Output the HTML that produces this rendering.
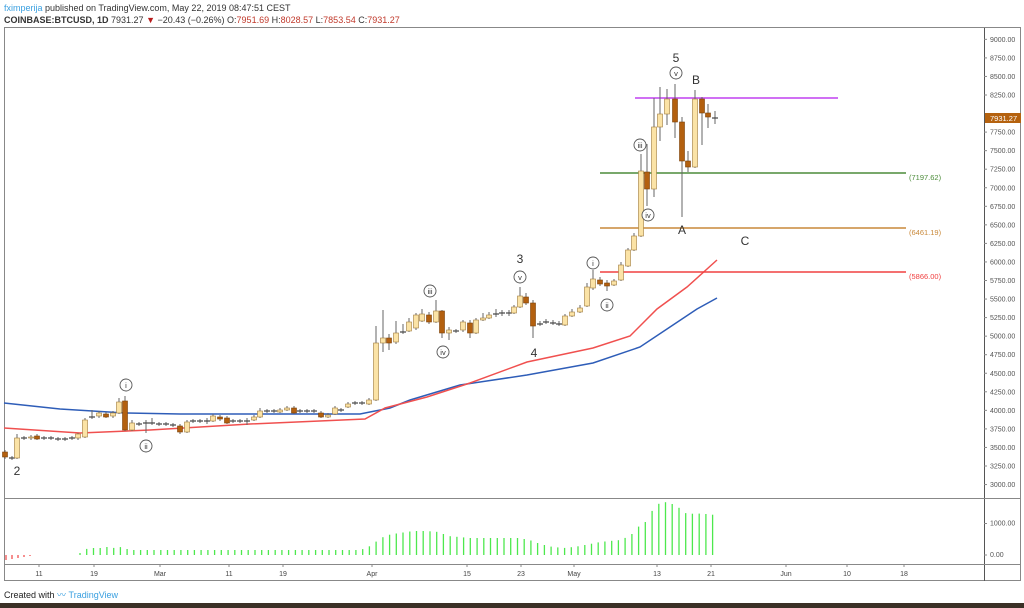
<!DOCTYPE html>
<html><head><meta charset="utf-8"><style>
html,body{margin:0;padding:0;background:#fff;width:1024px;height:608px;overflow:hidden;font-family:"Liberation Sans",sans-serif}
#hdr{position:absolute;left:4px;top:2px;font-size:9px;color:#333;line-height:12px}
.r{color:#c0392b}
</style></head><body>
<div id="hdr"><span style="color:#3aa0e0">fximperija</span> published on TradingView.com, May 22, 2019 08:47:51 CEST<br>
<b>COINBASE:BTCUSD, 1D</b> 7931.27 <span style="color:#b71c1c">▼</span> −20.43 (−0.26%) O:<span class="r">7951.69</span> H:<span class="r">8028.57</span> L:<span class="r">7853.54</span> C:<span class="r">7931.27</span></div>
<svg id="s" width="1024" height="608" style="position:absolute;left:0;top:0" xmlns="http://www.w3.org/2000/svg" font-family="Liberation Sans, sans-serif"></svg>
<div style="position:absolute;left:4px;top:588px;font-size:9px;color:#222">Created with <span style="color:#3aa0e0">〰 TradingView</span></div>
<div style="position:absolute;left:0;top:603px;width:1024px;height:5px;background:#3b3026"></div>
<script>
var s=document.getElementById('s'),h='';
function L(x1,y1,x2,y2,c,w){h+='<line x1="'+x1+'" y1="'+y1+'" x2="'+x2+'" y2="'+y2+'" stroke="'+c+'" stroke-width="'+(w||1)+'"/>';}
function T(x,y,t,c,sz,a){h+='<text x="'+x+'" y="'+y+'" fill="'+c+'" font-size="'+sz+'" text-anchor="'+(a||'start')+'">'+t+'</text>';}
// frame
h+='<rect x="4.5" y="27.5" width="1016" height="553" fill="none" stroke="#888"/>';
L(984.5,28,984.5,581,'#555');L(4,498.5,1021,498.5,'#888');L(4,564.5,1021,564.5,'#888');
// price axis
for(var p=3000;p<=9000;p+=250){var y=95+(8250-p)/250*18.55;if(p==8000)continue;L(984,y,987,y,'#888');T(990,y+2.5,p.toFixed(2),'#555',7);}
T(990,525.5,'1000.00','#555',7);L(984,523.5,987,523.5,'#888');T(990,557,'0.00','#555',7);L(984,555,987,555,'#888');
// time axis
[[39,'11'],[94,'19'],[160,'Mar'],[229,'11'],[283,'19'],[372,'Apr'],[467,'15'],[521,'23'],[574,'May'],[657,'13'],[711,'21'],[786,'Jun'],[847,'10'],[904,'18']].forEach(function(t){L(t[0],564,t[0],567,'#888');T(t[0],576,t[1],'#444',7,'middle');});
// MAs
h+='<polyline fill="none" stroke="#2e5db8" stroke-width="1.5" points="4,403 60,409 125,413 180,414 360,414 375,411 390,408 410,400 460,385 527,375 593,363 640,347 670,327 697,309 717,298"/>';
h+='<polyline fill="none" stroke="#f0504f" stroke-width="1.5" points="4,428 80,433 150,430 250,424 365,419 385,408 427,397 470,383 527,362 593,348 630,336 657,309 687,287 717,260"/>';
// horizontals
L(635,98,838,98,'#c040f0',1.5);L(600,173,906,173,'#4c8c3a',1.5);L(600,228,906,228,'#c9893a',1.5);L(600,272,906,272,'#f04040',1.5);
T(909,180,'(7197.62)','#4c8c3a',7.5);T(909,235,'(6461.19)','#c9893a',7.5);T(909,279,'(5866.00)','#f04040',7.5);
// candles [x,top,bot,wt,wb,bull]
var C=[[5,452,457,450,459,0],[12,458,458,456,460,1],[17,438,458,434,459,1],[24,438,438,436,440,1],[31,437,438,435,440,1],[37,436,439,434,440,0],[44,438,438,436,440,1],[51,438,438,436,440,1],[58,439,439,437,441,1],[65,439,439,437,441,1],[72,438,438,436,440,1],[78,434,438,433,440,1],[85,420,437,418,438,1],[92,417,417,410,419,1],[99,413,416,411,418,1],[106,414,417,412,418,0],[113,413,416,411,418,1],[119,402,413,398,414,1],[125,401,430,396,431,0],[132,423,430,420,431,1],[139,424,424,422,426,1],[146,423,423,420,433,1],[152,423,423,418,425,1],[159,424,424,422,426,1],[166,424,424,422,426,1],[173,425,425,423,427,1],[180,426,432,424,434,0],[187,422,432,420,433,1],[193,421,421,419,423,1],[200,421,421,419,423,1],[207,421,421,418,424,1],[213,416,421,414,422,1],[220,417,419,415,421,0],[227,418,423,416,424,0],[233,421,421,419,423,1],[240,421,421,419,423,1],[247,421,421,418,425,1],[254,417,420,415,421,1],[260,411,417,408,418,1],[267,411,411,409,413,1],[274,411,411,409,413,1],[280,410,412,408,413,1],[287,408,410,406,411,1],[294,408,413,406,414,0],[300,411,411,409,413,1],[307,411,411,409,413,1],[314,411,411,409,413,1],[321,413,417,411,418,0],[328,415,417,413,418,1],[335,408,414,406,415,1],[341,410,410,408,412,1],[348,404,407,402,408,1],[355,403,403,401,405,1],[362,403,403,401,405,1],[369,400,404,398,405,1],[376,343,400,326,401,1],[383,338,343,310,352,1],[389,338,343,334,350,0],[396,333,342,321,344,1],[403,332,332,324,334,1],[409,322,331,318,332,1],[416,315,328,313,330,1],[422,314,321,309,322,1],[429,315,322,312,324,0],[436,311,322,300,323,1],[442,311,333,310,338,0],[449,330,333,327,340,1],[456,331,331,329,333,1],[463,322,330,320,332,1],[470,323,333,320,338,0],[476,320,333,318,334,1],[483,318,320,313,321,1],[489,315,318,312,319,1],[496,314,314,309,317,1],[502,313,313,310,316,1],[509,313,313,310,316,1],[514,307,313,305,314,1],[520,296,307,287,308,1],[526,297,303,293,305,0],[533,303,326,300,338,0],[540,324,324,321,326,1],[546,322,322,319,324,1],[553,323,323,320,325,1],[559,324,324,321,326,1],[565,316,325,314,326,1],[572,312,316,309,317,1],[580,308,312,305,313,1],[587,287,306,283,307,1],[593,279,288,270,290,1],[600,280,284,277,286,0],[607,283,286,280,291,0],[614,281,285,279,286,1],[621,265,280,262,281,1],[628,250,266,248,267,1],[634,236,250,233,251,1],[641,171,236,154,237,1],[647,172,189,144,206,0],[654,127,189,98,197,1],[660,114,127,87,141,1],[667,99,114,89,125,1],[675,99,122,84,138,0],[682,122,161,117,217,0],[688,161,167,151,172,0],[695,99,167,90,168,1],[702,99,113,97,145,0],[708,113,117,104,128,0],[715,118,118,111,124,1]];
C.forEach(function(c){L(c[0],c[3],c[0],c[4],'#666');if(c[1]==c[2]){L(c[0]-3,c[1],c[0]+3,c[1],'#444',1.2);}else{h+='<rect x="'+(c[0]-2.5)+'" y="'+c[1]+'" width="5" height="'+(c[2]-c[1])+'" fill="'+(c[5]?'#fbe3a6':'#b3600f')+'" stroke="'+(c[5]?'#a07a3a':'#7a4008')+'" stroke-width="0.6"/>';}});
// indicator
var P=[[80,553],[86,549],[93,548],[100,548],[107,547],[113,548],[120,547],[127,549],[133,550],[360,550],[366,548],[372,545],[378,540],[385,536],[392,534],[400,533],[413,531],[426,531],[440,532],[447,536],[460,537],[470,538],[520,538],[533,541],[540,544],[553,547],[566,548],[580,546],[590,544],[600,542],[610,541],[620,540],[630,536],[640,525],[647,521],[654,507],[660,503],[667,502],[675,505],[682,510],[688,515],[695,513],[702,514],[708,514],[715,515]];
function iy(x){for(var i=1;i<P.length;i++){if(x<=P[i][0]){var a=P[i-1],b=P[i];return a[1]+(b[1]-a[1])*(x-a[0])/(b[0]-a[0]);}}return 515;}
for(var x=80;x<=716;x+=6.73){L(x.toFixed(1),iy(x).toFixed(1),x.toFixed(1),555,'#4de84d',1.3);}
[6,12,18,24,30].forEach(function(x,i){L(x,555,x,560-i,'#f05050',1.3);});
// price tag
h+='<rect x="985" y="113" width="36" height="10" fill="#b5620f"/>';T(990,121,'7931.27','#fff',7.5);
// wave labels
function O(x,y,t){h+='<circle cx="'+x+'" cy="'+y+'" r="6" fill="#fff" stroke="#555" stroke-width="0.9"/>';T(x,y+2.8,t,'#333',7.5,'middle');}
O(676,73,'v');O(640,145,'iii');O(648,215,'iv');O(520,277,'v');O(430,291,'iii');O(443,352,'iv');O(593,263,'i');O(607,305,'ii');O(126,385,'i');O(146,446,'ii');
T(676,62,'5','#333',12,'middle');T(696,84,'B','#333',12,'middle');T(682,234,'A','#333',12,'middle');T(745,245,'C','#333',12,'middle');
T(520,263,'3','#333',12,'middle');T(534,357,'4','#333',12,'middle');T(17,475,'2','#333',12,'middle');
s.innerHTML=h;
</script>
</body></html>
